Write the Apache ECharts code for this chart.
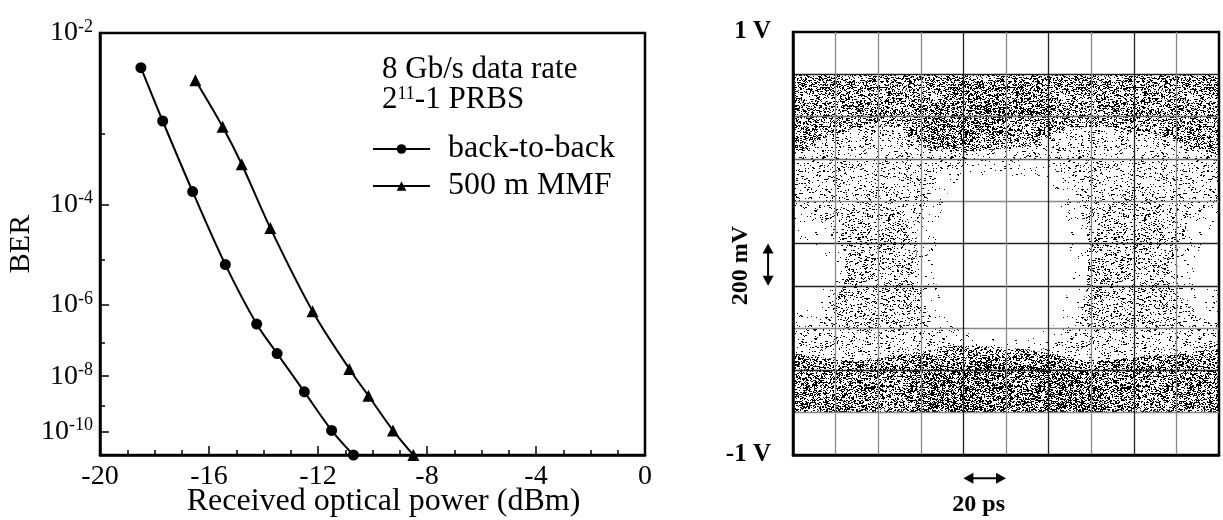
<!DOCTYPE html>
<html>
<head>
<meta charset="utf-8">
<script src="https://cdn.jsdelivr.net/npm/echarts@6/dist/echarts.min.js"></script>
<style>
  html, body { margin: 0; padding: 0; background: #fff; }
  #chart { width: 1223px; height: 520px; }
</style>
</head>
<body>
<div id="chart"></div>
<script>
const serif = "'Liberation Serif', 'Times New Roman', serif";

// --- BER curves
const b2bPower = [-18.5, -17.7, -16.6, -15.4, -14.25, -13.5, -12.5, -11.5, -10.7];
const b2bBer = [5.0e-3, 1.4e-3, 1.6e-4, 8e-6, 3.3e-7, 5e-8, 3e-9, 1.1e-10, 1e-11];
const mmfPower = [-16.5, -15.5, -14.8, -13.75, -12.2, -10.85, -10.15, -9.25, -8.5];
const mmfBer = [3.8e-3, 1.2e-3, 4e-4, 4e-5, 7e-7, 1.7e-8, 2.2e-9, 1.1e-10, 1e-11];
const berMajor = [2, 4, 6, 8, 10];   // 10^-n, labelled
const berMinor = [3, 5, 7, 9];       // 10^-n, small ticks
const berRange = [2, 11];            // 10^-2 .. 10^-11

// --- eye diagram regions, [time ps, volts]
const eyeBand = [[0, 0.8], [200, 0.8], [200, -0.8], [0, -0.8]];
const crossLeft = [[20, 0.15], [45, 0.2], [60, 0.05], [62, -0.2], [55, -0.42], [25, -0.42], [18, -0.2], [25, 0]];
const crossRight = [[140, 0.2], [170, 0.22], [185, 0.05], [185, -0.25], [175, -0.42], [140, -0.42], [132, -0.2], [135, 0]];
const haloMid = [[58, 0.05], [68, 0.33], [86, 0.4], [118, 0.4], [132, 0.25], [138, 0.05], [138, -0.22], [130, -0.44], [112, -0.52], [84, -0.52], [66, -0.42], [58, -0.15]];
const haloLeft = [[0, 0.18], [12, 0.12], [24, -0.05], [24, -0.2], [14, -0.35], [0, -0.4]];
const haloRight = [[200, 0.2], [188, 0.12], [180, -0.05], [182, -0.25], [192, -0.35], [200, -0.38]];
const coreMid = [[68, 0.1], [74, 0.28], [88, 0.32], [116, 0.32], [124, 0.22], [130, 0.05], [130, -0.2], [124, -0.38], [110, -0.45], [86, -0.45], [72, -0.35], [66, -0.15]];
const coreLeft = [[0, 0.02], [10, 0], [18, -0.1], [14, -0.22], [6, -0.28], [0, -0.28]];
const coreRight = [[200, 0.05], [194, 0.02], [188, -0.08], [192, -0.2], [200, -0.22]];
const railTop = [[0, 0.8], [200, 0.8], [200, 0.42], [185, 0.46], [170, 0.52], [150, 0.55], [130, 0.55], [110, 0.46], [80, 0.43], [60, 0.46], [50, 0.55], [30, 0.55], [15, 0.5], [0, 0.42]];
const railBottom = [[0, -0.8], [200, -0.8], [200, -0.5], [170, -0.53], [140, -0.56], [110, -0.5], [80, -0.48], [55, -0.52], [30, -0.56], [0, -0.52]];
const clumpTop = [[60, 0.62], [80, 0.76], [115, 0.76], [120, 0.62], [95, 0.55], [75, 0.45], [62, 0.48]];
const clumpBottom = [[55, -0.6], [80, -0.56], [120, -0.58], [145, -0.62], [145, -0.8], [55, -0.8]];

// scale bars of the eye: 200 mV and 20 ps
const voltBarTime = -11.7;
const voltBarRange = [0, -0.2];
const timeBarVolt = -1.11;
const timeBarRange = [80, 100];

// BER axis is log(-log(BER))
function q(ber) { return Math.log10(-Math.log10(ber)); }

// stipple texture for the sampled dots
function hash(i, j, s) {
  let h = Math.imul(i + 1, 0x27d4eb2d) ^ Math.imul(j + 1, 0x165667b1) ^ Math.imul(s + 1, 0x9e3779b1);
  h = Math.imul(h ^ (h >>> 15), 0x85ebca6b);
  h = Math.imul(h ^ (h >>> 13), 0xc2b2ae35);
  h ^= h >>> 16;
  return (h >>> 0) / 4294967296;
}
function stipple(density, seed) {
  const size = 128;
  const c = document.createElement('canvas');
  c.width = size; c.height = size;
  const ctx = c.getContext('2d');
  ctx.fillStyle = '#000';
  for (let j = 0; j < size; j++) {
    for (let i = 0; i < size; i++) {
      const h = hash(i, j, seed);
      if (h < density) ctx.fillRect(i, j, h < density * 0.3 ? 2 : 1, 1);
    }
  }
  return { image: c, repeat: 'repeat' };
}
const tex = {
  medium: stipple(0.09, 1),
  extra: stipple(0.06, 2),
  sparse: stipple(0.025, 3),
  dense: stipple(0.23, 4),
  clump: stipple(0.12, 5),
  white: '#fff'
};
const eyeLayers = [
  { shape: eyeBand, fill: 'medium' },
  { shape: crossLeft, fill: 'extra' },
  { shape: crossRight, fill: 'extra' },
  { shape: haloMid, fill: 'white' }, { shape: haloMid, fill: 'sparse' },
  { shape: haloLeft, fill: 'white' }, { shape: haloLeft, fill: 'sparse' },
  { shape: haloRight, fill: 'white' }, { shape: haloRight, fill: 'sparse' },
  { shape: coreMid, fill: 'white' },
  { shape: coreLeft, fill: 'white' },
  { shape: coreRight, fill: 'white' },
  { shape: railTop, fill: 'dense' },
  { shape: railBottom, fill: 'dense' },
  { shape: railBottom, fill: 'extra' },
  { shape: clumpTop, fill: 'clump' },
  { shape: clumpBottom, fill: 'clump' }
];

const vLineColors = ['#888', '#888', '#888', '#222', '#888', '#222', '#888', '#222', '#888'];
const hLineColors = ['#888', '#222', '#888', '#222', '#222', '#888', '#666', '#666', '#222'];

const chart = echarts.init(document.getElementById('chart'));

const lineSeries = (name, xs, bers, symbol, size) => ({
  name: name,
  type: 'line',
  xAxisIndex: 0,
  yAxisIndex: 0,
  data: xs.map((p, i) => [p, q(bers[i])]),
  smooth: 0.35,
  symbol: symbol,
  symbolSize: size,
  clip: false,
  itemStyle: { color: '#000' },
  lineStyle: { color: '#000', width: 2 }
});

chart.setOption({
  animation: false,
  backgroundColor: '#fff',
  textStyle: { fontFamily: serif, color: '#000' },
  title: {
    text: '8 Gb/s data rate\n{n|2}{s|11}{n|-1 PRBS}',
    left: 382,
    top: 55,
    padding: 0,
    textStyle: {
      fontFamily: serif, fontSize: 31, fontWeight: 'normal', color: '#000', lineHeight: 30,
      rich: {
        n: { fontFamily: serif, fontSize: 31, lineHeight: 30, color: '#000' },
        s: { fontFamily: serif, fontSize: 18, lineHeight: 18, verticalAlign: 'top', color: '#000' }
      }
    }
  },
  legend: {
    left: 372,
    top: 133,
    padding: 0,
    orient: 'vertical',
    itemWidth: 57,
    itemHeight: 12,
    itemGap: 5,
    selectedMode: false,
    data: ['back-to-back', '500 m MMF'],
    textStyle: { fontFamily: serif, fontSize: 32, lineHeight: 30, color: '#000', padding: [0, 0, 0, 13] }
  },
  grid: [
    { left: 100, top: 33, width: 545, height: 422, outerBoundsMode: 'none', show: true, borderColor: '#000', borderWidth: 2.5 },
    { left: 793, top: 32, width: 426, height: 423, outerBoundsMode: 'none', show: true, borderColor: '#000', borderWidth: 2.5 }
  ],
  xAxis: [
    {
      gridIndex: 0, type: 'value', min: -20, max: 0, interval: 4,
      name: 'Received optical power (dBm)', nameLocation: 'middle', nameGap: 31, nameMoveOverlap: false,
      nameTextStyle: { fontFamily: serif, fontSize: 32, color: '#000', padding: [0, 0, 0, 22] },
      axisLine: { show: true, onZero: false, lineStyle: { color: '#000', width: 2.5 } },
      axisTick: { show: true, inside: true, length: 9, lineStyle: { color: '#000', width: 1.5 } },
      minorTick: { show: true, splitNumber: 4, length: 5, lineStyle: { color: '#000', width: 1.5 } },
      splitLine: { show: false },
      axisLabel: { fontFamily: serif, fontSize: 28, color: '#000', margin: 8 }
    },
    {
      gridIndex: 1, type: 'value', min: 0, max: 200, interval: 20,
      axisLine: { show: true, onZero: false, lineStyle: { color: '#000', width: 2.5 } },
      axisTick: { show: false },
      axisLabel: { show: false },
      splitLine: { show: true, showMinLine: false, showMaxLine: false, lineStyle: { color: vLineColors, width: 1.3 } }
    }
  ],
  yAxis: [
    {
      gridIndex: 0, type: 'value', position: 'left', inverse: true,
      min: Math.log10(berRange[0]), max: Math.log10(berRange[1]),
      name: 'BER', nameLocation: 'middle', nameGap: 64, nameRotate: 90, nameMoveOverlap: false,
      nameTextStyle: { fontFamily: serif, fontSize: 30, color: '#000' },
      axisLine: { show: true, onZero: false, lineStyle: { color: '#000', width: 2.5 } },
      axisTick: { show: true, inside: true, length: 9, customValues: berMajor.map(Math.log10), lineStyle: { color: '#000', width: 1.5 } },
      splitLine: { show: false },
      axisLabel: {
        customValues: berMajor.map(Math.log10),
        margin: 7,
        formatter: v => '{b|10}{s|-' + Math.round(Math.pow(10, v)) + '}',
        rich: {
          b: { fontFamily: serif, fontSize: 28, lineHeight: 30, color: '#000' },
          s: { fontFamily: serif, fontSize: 18, lineHeight: 18, verticalAlign: 'top', color: '#000' }
        }
      }
    },
    {
      gridIndex: 1, type: 'value', min: -1, max: 1, interval: 0.2,
      axisLine: { show: true, onZero: false, lineStyle: { color: '#000', width: 2.5 } },
      axisTick: { show: false },
      splitLine: { show: true, showMinLine: false, showMaxLine: false, lineStyle: { color: hLineColors, width: 1.3 } },
      axisLabel: {
        customValues: [-1, 1],
        formatter: v => (v > 0 ? '1 V' : '-1 V'),
        margin: 22,
        fontFamily: serif, fontSize: 25, fontWeight: 'bold', color: '#000'
      }
    },
    {
      gridIndex: 0, type: 'value', position: 'left', offset: 0, inverse: true,
      min: Math.log10(berRange[0]), max: Math.log10(berRange[1]),
      axisLine: { show: false, onZero: false },
      axisTick: { show: true, inside: true, length: 5, customValues: berMinor.map(Math.log10), lineStyle: { color: '#000', width: 1.5 } },
      axisLabel: { show: false },
      splitLine: { show: false }
    }
  ],
  series: [
    lineSeries('back-to-back', b2bPower, b2bBer, 'circle', 11),
    lineSeries('500 m MMF', mmfPower, mmfBer, 'triangle', 12),
    {
      type: 'custom',
      xAxisIndex: 1,
      yAxisIndex: 1,
      z: -1,
      silent: true,
      data: eyeLayers.map((l, i) => [0, 0, i]),
      renderItem: (params, api) => {
        const layer = eyeLayers[api.value(2)];
        return {
          type: 'polygon',
          shape: { points: layer.shape.map(p => api.coord(p)) },
          style: { fill: tex[layer.fill] }
        };
      }
    }
  ]
});

// scale-bar arrows next to the eye
function arrow(a, b) {
  const dx = b[0] - a[0], dy = b[1] - a[1];
  const len = Math.hypot(dx, dy), ux = dx / len, uy = dy / len;
  const hl = 10, hw = 5.5;
  const head = (tip, u) => ({
    type: 'polygon',
    shape: { points: [tip, [tip[0] - u[0] * hl - u[1] * hw, tip[1] - u[1] * hl + u[0] * hw], [tip[0] - u[0] * hl + u[1] * hw, tip[1] - u[1] * hl - u[0] * hw]] },
    style: { fill: '#000' }
  });
  return [
    { type: 'line', shape: { x1: a[0] + ux * 5, y1: a[1] + uy * 5, x2: b[0] - ux * 5, y2: b[1] - uy * 5 }, style: { stroke: '#000', lineWidth: 2 } },
    head(b, [ux, uy]),
    head(a, [-ux, -uy])
  ];
}
const finder = { seriesIndex: 2 };
const v1 = chart.convertToPixel(finder, [voltBarTime, voltBarRange[0]]);
const v2 = chart.convertToPixel(finder, [voltBarTime, voltBarRange[1]]);
const t1 = chart.convertToPixel(finder, [timeBarRange[0], timeBarVolt]);
const t2 = chart.convertToPixel(finder, [timeBarRange[1], timeBarVolt]);
chart.setOption({
  graphic: [].concat(arrow(v1, v2), arrow(t1, t2), [
    {
      type: 'text', x: v1[0] - 27, y: (v1[1] + v2[1]) / 2 + 1, rotation: Math.PI / 2,
      style: { text: '200 mV', fontFamily: serif, fontSize: 24, fontWeight: 'bold', fill: '#000', align: 'center', verticalAlign: 'middle' }
    },
    {
      type: 'text', x: (t1[0] + t2[0]) / 2 - 6, y: t1[1] + 27,
      style: { text: '20 ps', fontFamily: serif, fontSize: 24, fontWeight: 'bold', fill: '#000', align: 'center', verticalAlign: 'middle' }
    }
  ])
});
</script>
</body>
</html>
